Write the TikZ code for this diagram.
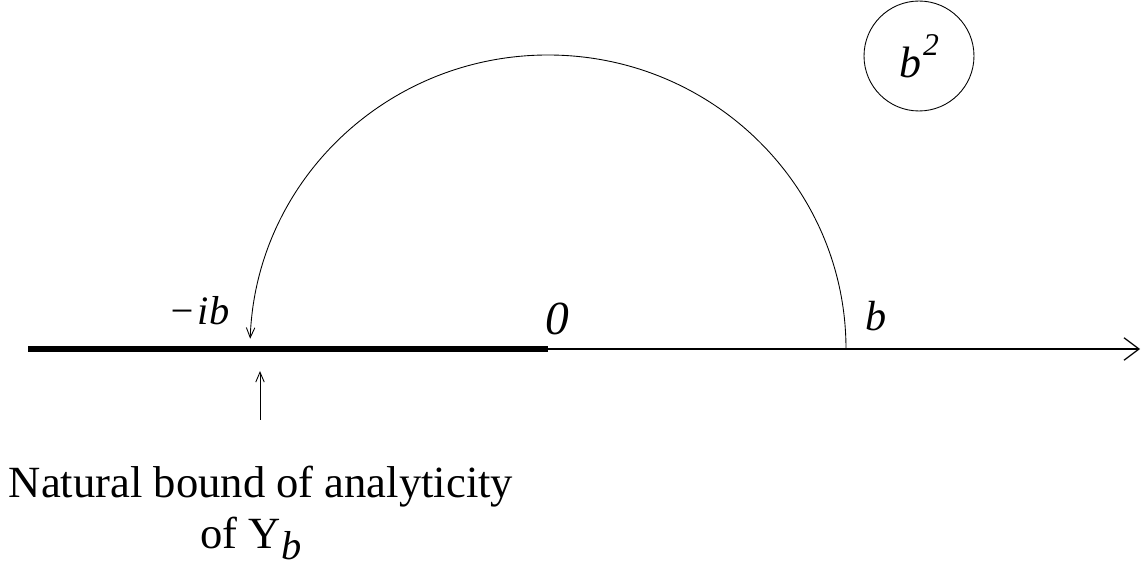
\documentclass[tikz,border=0pt]{standalone}
\usepackage{fontspec}
\setmainfont{Liberation Serif}
\usetikzlibrary{arrows.meta,positioning}

\begin{document}
\begin{tikzpicture}[x=0.02cm,y=-0.02cm,
  lbl/.style={font=\fontsize{24}{28}\selectfont\itshape,inner sep=0pt},
  note/.style={font=\fontsize{25.4}{29}\selectfont,inner sep=0pt},
  arr/.style={-{Straight Barb[length=0.2cm,width=0.17cm]},line width=0.5pt}]
  \useasboundingbox (0,0) rectangle (1146,567);
  % axis
  \coordinate (left) at (28,349);
  \coordinate (origin) at (548,349);
  \coordinate (bpt) at (846,349);
  \coordinate (right) at (1140,349);
  \draw[line width=3.4pt] (left) -- (origin);
  \draw[-{Straight Barb[length=0.3cm,width=0.45cm]},line width=0.7pt] (origin) -- (right);
  % labels on the axis
  \node[lbl,font=\fontsize{23}{26}\selectfont\itshape] (mib) at (199,311) {−\kern0.05em ib};
  \node[lbl,font=\fontsize{27}{30}\selectfont\itshape] (zero) at (557,319) {0};
  \node[lbl] (blbl) at (876,316) {b};
  % half circle from b to -ib
  \draw[arr] (bpt) arc[start angle=0,end angle=-178,x radius=298,y radius=294];
  % circled b^2
  \node[draw,circle,line width=0.5pt,minimum size=2.2cm,inner sep=0pt,
    font=\fontsize{25}{28}\selectfont\itshape] (bsq) at (919,56) {b\kern0.05em\raisebox{0.5em}{\fontsize{18}{20}\selectfont 2}};
  % natural bound
  \node[note,anchor=base] (bound) at (261,497) {Natural bound of analyticity};
  \node[note,anchor=base west] (ofy) at (200,548) {of Y\kern0.02em\raisebox{-0.24cm}{\itshape\fontsize{23}{26}\selectfont b}};
  \coordinate (tail) at (260,420);
  \coordinate (tip) at (260,371);
  \draw[arr] (tail) -- (tip);
\end{tikzpicture}
\end{document}
